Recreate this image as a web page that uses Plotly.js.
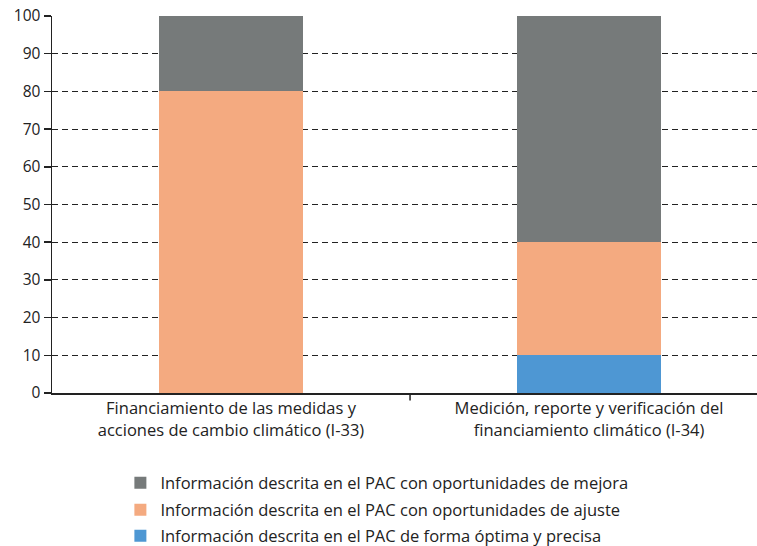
<!DOCTYPE html>
<html><head><meta charset="utf-8">
<script src="https://cdn.plot.ly/plotly-3.0.1.min.js"></script>
<style>html,body{margin:0;padding:0;background:#fff}#c{width:757px;height:546px}</style>
</head><body><div id="c"></div>
<script>
const categories = ["Financiamiento de las medidas y<br>acciones de cambio climático (I-33)",
                    "Medición, reporte y verificación del<br>financiamiento climático (I-34)"];
const seriesNames = ["Información descrita en el PAC de forma óptima y precisa",
                     "Información descrita en el PAC con oportunidades de ajuste",
                     "Información descrita en el PAC con oportunidades de mejora"];
const optima = [0, 10];
const ajuste = [80, 30];
const mejora = [20, 60];
const yTicks = [0,10,20,30,40,50,60,70,80,90,100];
const colors = ["#4e97d3", "#f4aa80", "#767a7a"];

const vals = [optima, ajuste, mejora];
const legendIds = ['legend3', 'legend2', 'legend'];
const traces = vals.map((v,i)=>({
  type:'bar', x:[0,1], y:v, name:seriesNames[i], width:0.4, legend:legendIds[i],
  marker:{color:colors[i], line:{width:0}}, hoverinfo:'skip'
}));
const font = "'Open Sans', 'Noto Sans', sans-serif";
function leg(centerPx){
  return {orientation:'v', x:0.097, xanchor:'left', yref:'container', y:(546-centerPx)/546, yanchor:'middle',
    font:{size:16.5, color:'#222'}, itemwidth:30, bgcolor:'rgba(0,0,0,0)'};
}
Plotly.newPlot('c', traces, {
  width:757, height:546,
  margin:{l:52, r:0, t:16, b:153},
  barmode:'stack',
  paper_bgcolor:'#fff', plot_bgcolor:'#fff',
  font:{family:font, color:'#222', size:15},
  xaxis:{range:[-0.5,1.469], tickmode:'array', tickvals:[0,1], ticktext:categories,
    showgrid:false, showline:true, linecolor:'#222', linewidth:1.5, zeroline:false,
    tickfont:{size:16.5, color:'#222'}, ticks:'', fixedrange:true, automargin:false},
  yaxis:{range:[0,100], tickvals:yTicks, ticks:'outside', ticklen:7, tickcolor:'#222', tickwidth:1.5,
    showline:true, linecolor:'#222', linewidth:1.5, showgrid:true, gridcolor:'#222', griddash:'6px,4px', gridwidth:1,
    zeroline:false, tickfont:{size:15.5, color:'#222'}, fixedrange:true, automargin:false},
  shapes:[{type:'line', xref:'x', yref:'paper', x0:0.5, x1:0.5, y0:0, y1:-0.02, line:{color:'#222', width:1.5}}],
  legend:leg(483), legend2:leg(510), legend3:leg(536),
  showlegend:true
}, {displayModeBar:false, staticPlot:true});
</script></body></html>
